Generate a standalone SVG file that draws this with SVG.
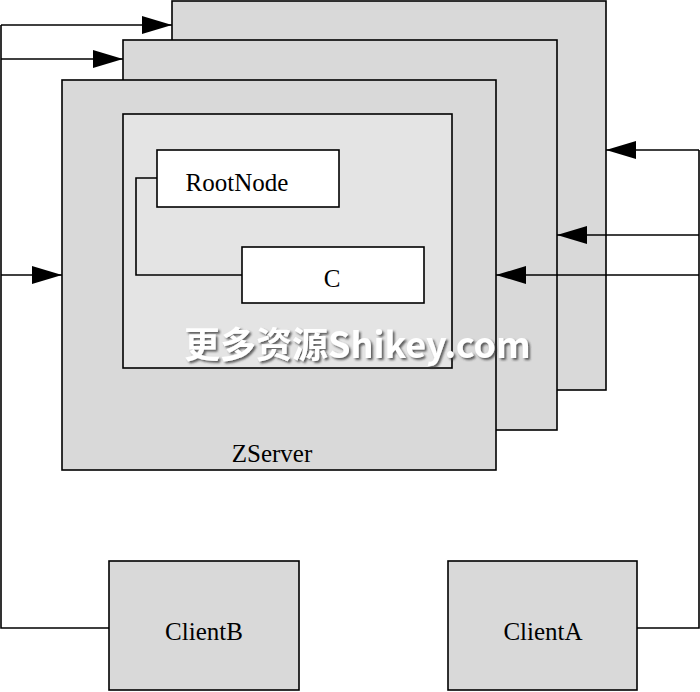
<svg xmlns="http://www.w3.org/2000/svg" width="700" height="692" viewBox="0 0 700 692">
<defs>
<style>
.box{fill:#d9d9d9;stroke:#000;stroke-width:1.6}
.inner{fill:#e4e4e4;stroke:#000;stroke-width:1.6}
.white{fill:#fff;stroke:#000;stroke-width:1.6}
.lbl{font-family:"Liberation Serif","Times New Roman",serif;font-size:25px;fill:#000;text-anchor:middle}
.wire{fill:none;stroke:#000;stroke-width:1.6}
.arr{fill:none;stroke:#000;stroke-width:1.6;marker-end:url(#ah)}
.wm{font-family:"Noto Sans CJK SC","Liberation Sans",sans-serif;font-weight:bold;font-size:36px;fill:#fff;filter:url(#sh)}
</style>
<filter id="sh" x="-10%" y="-30%" width="120%" height="160%">
<feDropShadow dx="2" dy="2" stdDeviation="1.2" flood-color="#333" flood-opacity="0.75"/>
</filter>
<marker id="ah" viewBox="0 0 30 18" refX="30" refY="9" markerWidth="30" markerHeight="18" markerUnits="userSpaceOnUse" orient="auto">
<path d="M0,0 L30,9 L0,18 Z" fill="#000"/>
</marker>
</defs>
<rect width="700" height="692" fill="#fff"/>
<g id="server3"><rect class="box" x="172" y="1" width="434" height="389"/></g>
<g id="server2"><rect class="box" x="123" y="40" width="434" height="390"/></g>
<g id="zserver"><rect class="box" x="62" y="80" width="434" height="390"/><text class="lbl" x="272" y="462">ZServer</text></g>
<g id="inner"><rect class="inner" x="123" y="114" width="329" height="254"/></g>
<g id="rootnode"><rect class="white" x="157" y="150" width="182" height="57"/><text class="lbl" x="237" y="191">RootNode</text></g>
<g id="c"><rect class="white" x="242" y="247" width="182" height="56"/><text class="lbl" x="332" y="287">C</text></g>
<g id="clientB"><rect class="box" x="109" y="561" width="190" height="129"/><text class="lbl" x="204" y="640">ClientB</text></g>
<g id="clientA"><rect class="box" x="448" y="561" width="189" height="129"/><text class="lbl" x="543" y="640">ClientA</text></g>
<g id="connectors">
<path class="wire" d="M157,178 H136 V275 H242"/>
<path class="wire" d="M109,628 H1 V25"/>
<path class="arr" d="M1,25 H172"/>
<path class="arr" d="M1,59 H123"/>
<path class="arr" d="M1,275 H62"/>
<path class="wire" d="M637,628 H699 V150"/>
<path class="arr" d="M699,150 H606"/>
<path class="arr" d="M699,235 H557"/>
<path class="arr" d="M699,275 H496"/>
</g>
<g id="watermark">
<text class="wm" x="184" y="358">更多资源Shikey.com</text>
</g>
</svg>
